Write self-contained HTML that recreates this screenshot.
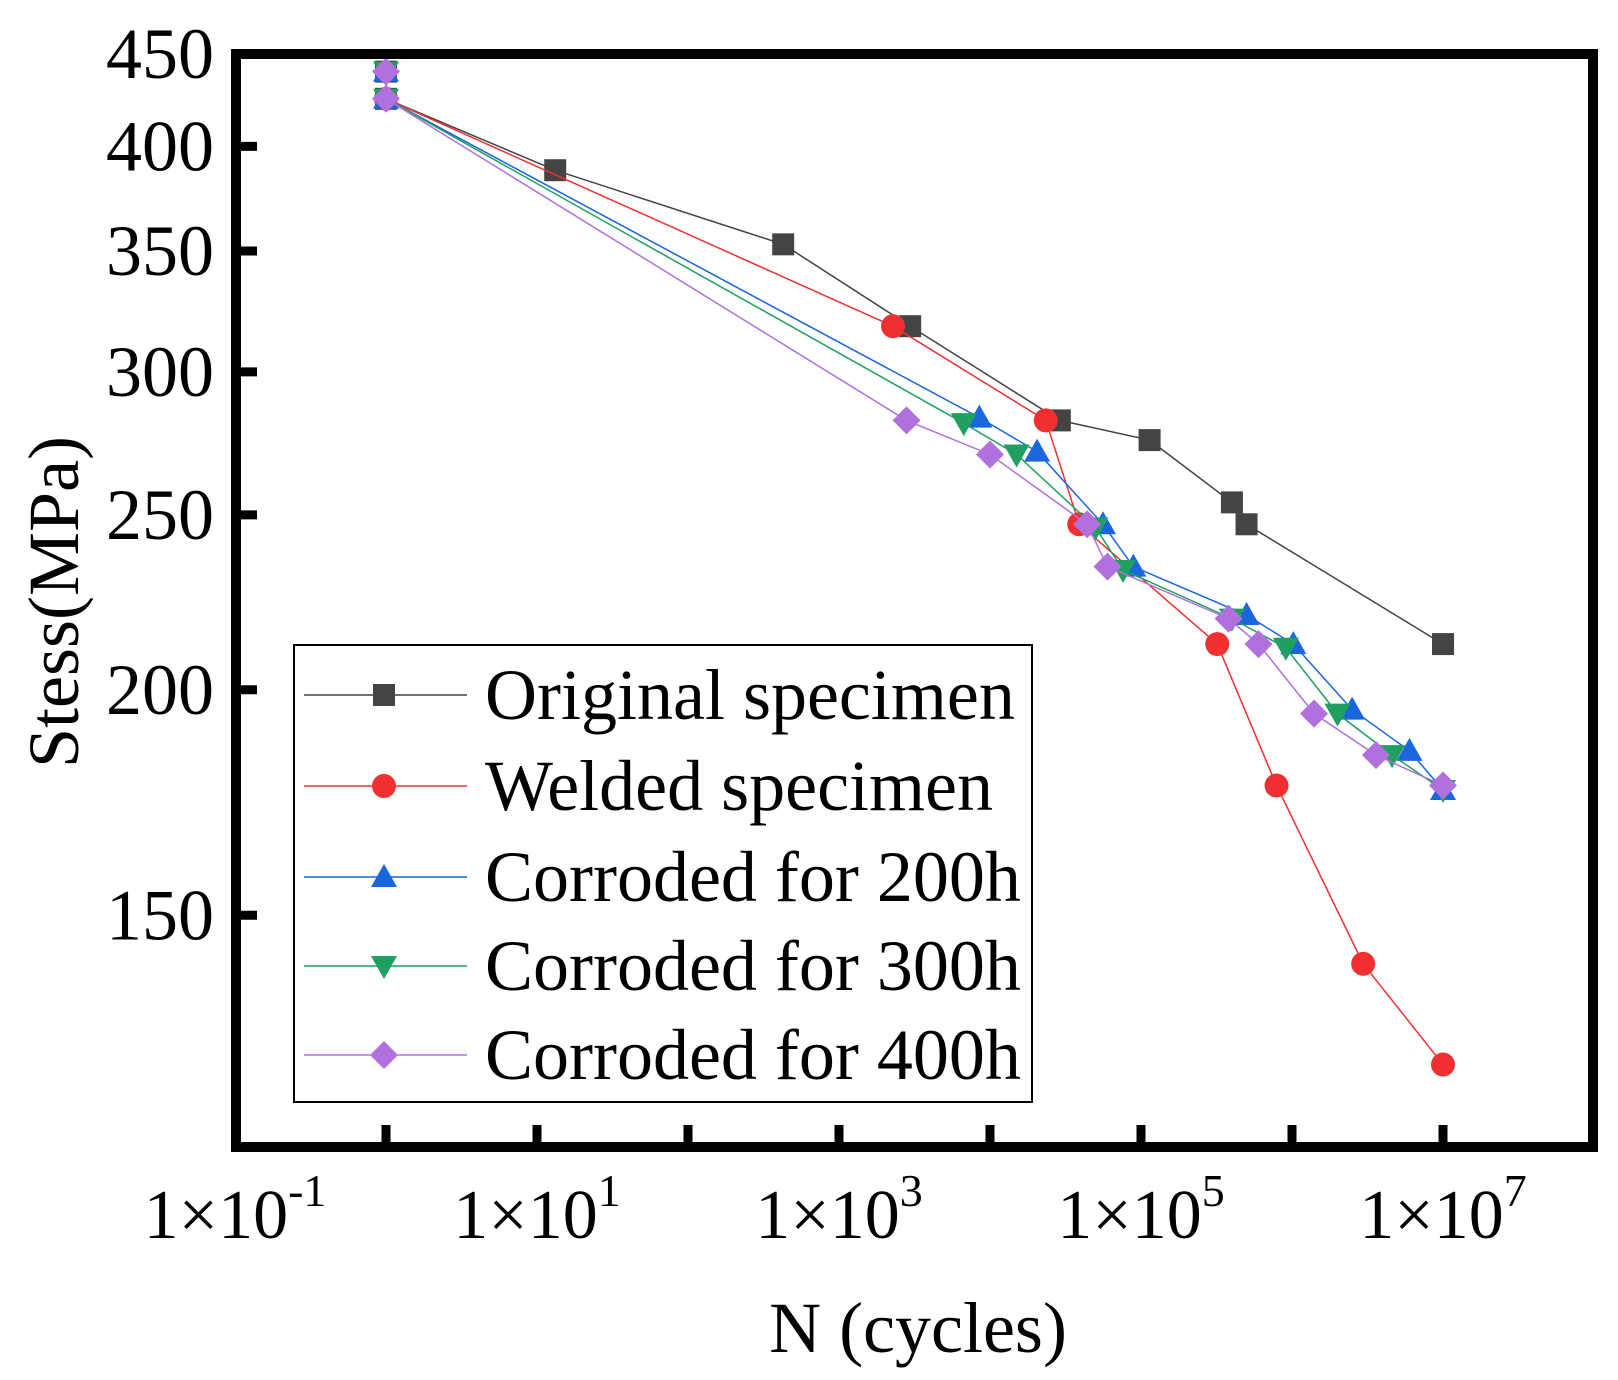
<!DOCTYPE html>
<html><head><meta charset="utf-8"><style>
html,body{margin:0;padding:0;background:#fff;}
svg{display:block;font-family:"Liberation Serif",serif;}
</style></head><body>
<svg id="chart" width="1618" height="1380" viewBox="0 0 1618 1380" xmlns="http://www.w3.org/2000/svg">
<g id="series-layer"></g>
<rect x="236" y="54" width="1357" height="1093" fill="none" stroke="#000" stroke-width="10"/>
<g id="axes"></g>
<text x="918" y="1352" font-size="72" text-anchor="middle">N (cycles)</text>
<text transform="translate(78,602) rotate(-90)" font-size="72" text-anchor="middle">Stess(MPa)</text>
<g id="legend">
<rect x="294" y="645" width="738" height="457" fill="#fff" stroke="#000" stroke-width="2"/>
</g>
</svg>
<script>
var seriesNames=["Original specimen","Welded specimen","Corroded for 200h","Corroded for 300h","Corroded for 400h"];
var colors=["#444444","#f03030","#1a66dd","#20a060","#b070dd"];
var markers=["square","circle","up","down","diamond"];
var origN=[1,1,13.2,427,2960,2.9e4,1.14e5,4e5,5e5,1e7];
var origS=[440,425,388,353,318,282,275,254,247,212];
var weldN=[1,2280,2.34e4,3.9e4,3.2e5,7.9e5,2.96e6,1e7];
var weldS=[425,318,282,247,212,177,141,124];
var c200N=[1,1,8500,2.05e4,5.6e4,8.9e4,5e5,1.02e6,2.5e6,6e6,1e7];
var c200S=[440,425,283,271,247,234,220,212,195,185,176];
var c300N=[1,1,6700,1.5e4,5e4,7.6e4,4e5,9.1e5,2e6,4.6e6,1e7];
var c300S=[440,425,281,270,246,233,219,211,194,184,176];
var c400N=[1,1,2800,1e4,4.4e4,6e4,3.8e5,6e5,1.4e6,3.6e6,1e7];
var c400S=[440,425,282,270,247,234,219,212,194,184,177];
var yTicks=[150,200,250,300,350,400,450];
var xTickExp=[-1,0,1,2,3,4,5,6,7];
var xLabelExp=[-1,1,3,5,7];

var NS="http://www.w3.org/2000/svg";
function xs(n){return 235+151*(Math.log10(n)+1);}
function ys(s){return 54+784*Math.log(450/s);}
function mk(tag,attrs,parent){var e=document.createElementNS(NS,tag);for(var k in attrs)e.setAttribute(k,attrs[k]);parent.appendChild(e);return e;}
function marker(type,x,y,color,parent){
  var r=11,e;
  if(type==="square")e=mk("rect",{x:x-r,y:y-r,width:2*r,height:2*r,fill:color},parent);
  else if(type==="circle")e=mk("circle",{cx:x,cy:y,r:r+1,fill:color},parent);
  else if(type==="up")e=mk("polygon",{points:(x)+","+(y-13)+" "+(x+13)+","+(y+10)+" "+(x-13)+","+(y+10),fill:color},parent);
  else if(type==="down")e=mk("polygon",{points:(x)+","+(y+13)+" "+(x+13)+","+(y-10)+" "+(x-13)+","+(y-10),fill:color},parent);
  else e=mk("polygon",{points:x+","+(y-14)+" "+(x+14)+","+y+" "+x+","+(y+14)+" "+(x-14)+","+y,fill:color},parent);
  return e;
}
var allN=[origN,weldN,c200N,c300N,c400N];
var allS=[origS,weldS,c200S,c300S,c400S];
var layer=document.getElementById("series-layer");
for(var i=0;i<5;i++){
  var g=mk("g",{},layer);
  
  
  var pts=allN[i].map(function(n,j){return xs(n)+","+ys(allS[i][j]);}).join(" ");
  var pl=mk("polyline",{points:pts,fill:"none",stroke:colors[i],"stroke-width":1.5},g);
  
  
  for(var j=0;j<allN[i].length;j++){
    var m=marker(markers[i],xs(allN[i][j]),ys(allS[i][j]),colors[i],g);
    
    
  }
}
var axes=document.getElementById("axes");
yTicks.forEach(function(v){
  var y=ys(v);
  var t=mk("line",{x1:236,x2:257,y1:y,y2:y,stroke:"#000","stroke-width":9},axes);
  
  
  var l=mk("text",{x:214,y:y+24,"font-size":72,"text-anchor":"end"},axes);
  l.textContent=v;
  
  
});
xTickExp.forEach(function(e){
  var x=xs(Math.pow(10,e));
  if(e>-1){
    var t=mk("line",{x1:x,x2:x,y1:1147,y2:1125,stroke:"#000","stroke-width":9},axes);
    
    
  }
});
xLabelExp.forEach(function(e){
  var x=xs(Math.pow(10,e));
  var l=mk("text",{x:x,y:1238,"font-size":70,"text-anchor":"middle"},axes);
  l.textContent="1\u00d710";
  var s=mk("tspan",{dy:-32,"font-size":46},l);
  s.textContent=String(e);
  
  
});
var leg=document.getElementById("legend");
var ly=[695,786,877,966,1055];
for(var i=0;i<5;i++){
  var ln=mk("line",{x1:304,x2:467,y1:ly[i],y2:ly[i],stroke:colors[i],"stroke-width":1.5},leg);
  
  
  var m=marker(markers[i],384,ly[i],colors[i],leg);
  
  
  var t=mk("text",{x:485,y:ly[i]+24,"font-size":72},leg);
  t.textContent=seriesNames[i];
  
  
}
</script>
</body></html>
